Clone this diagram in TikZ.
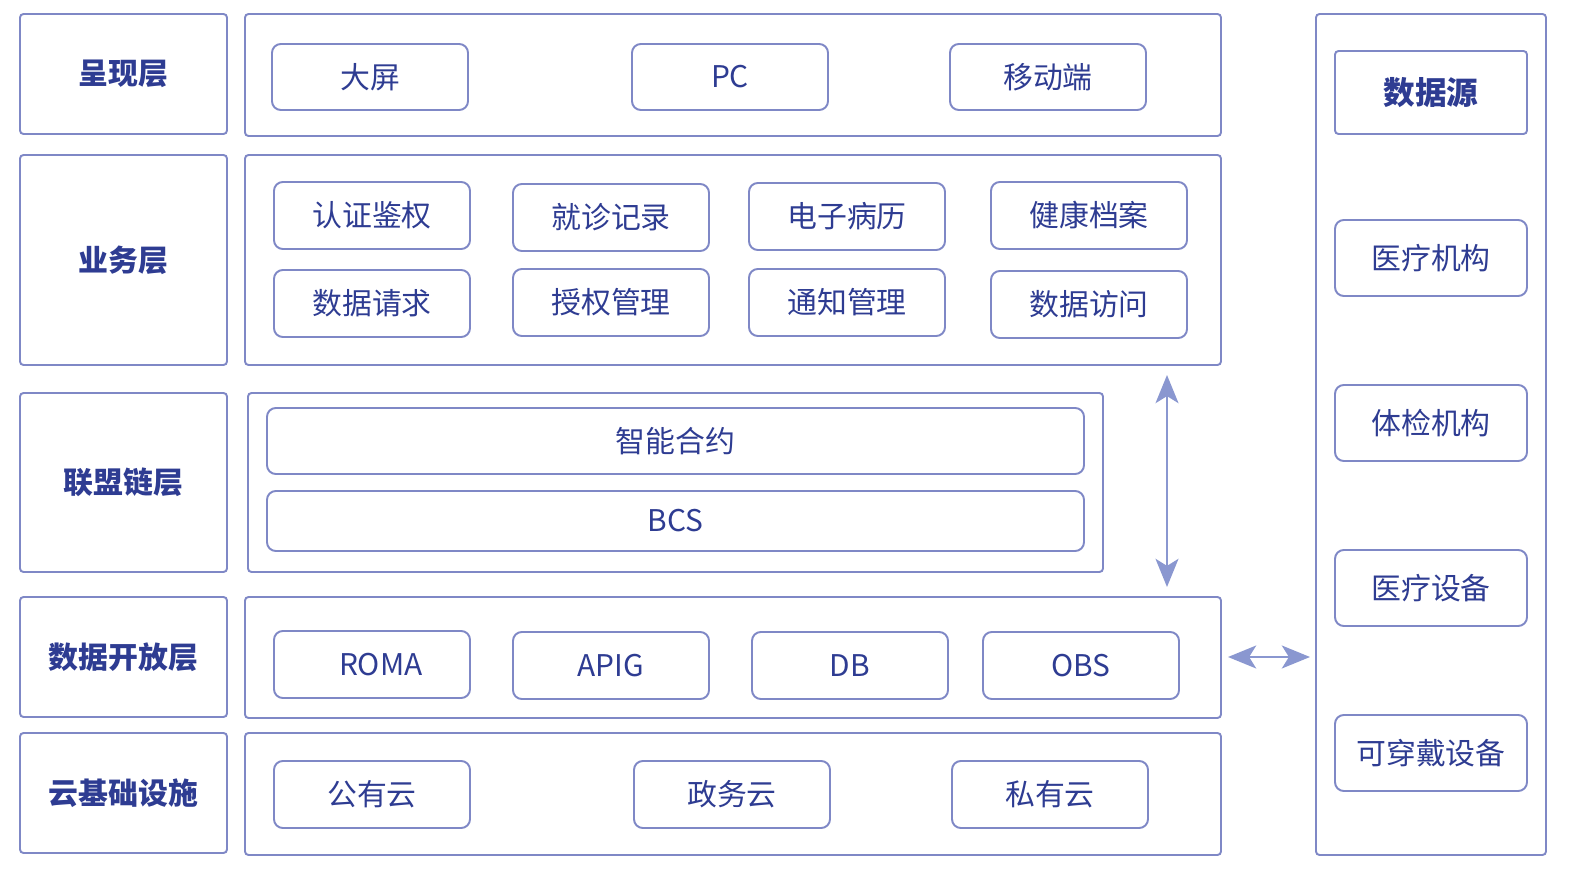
\documentclass[tikz,border=0pt]{standalone}
\usepackage{fontspec}
\setmainfont{Noto Sans CJK SC}
\usetikzlibrary{arrows.meta}
\definecolor{lineblue}{HTML}{7F88C6}
\definecolor{textblue}{HTML}{2E3C92}
\definecolor{arrowblue}{HTML}{8A97D0}
\tikzset{
  panel/.style = {draw=lineblue, line width=1.1pt, rounded corners=2pt},
  item/.style = {draw=lineblue, line width=1.1pt, rounded corners=5pt},
  lbl/.style = {text=textblue, font=\fontsize{17}{19}\selectfont},
  dbl/.style = {{Stealth[length=16pt,width=13pt,inset=4pt]}-{Stealth[length=16pt,width=13pt,inset=4pt]}, draw=arrowblue, line width=1.6pt}
}
% box from corner to corner with a centred label
\newcommand{\bx}[7]{%
  \draw[#1] (#3,#4) rectangle (#5,#6);
  \node[lbl] (#2) at ({(#3+#5)/2},{(#4+#6)/2}) {#7};}
\begin{document}
\begin{tikzpicture}[x=0.02cm, y=-0.02cm]
\useasboundingbox (0,0) rectangle (1590,888);

% layer names
\bx{panel}{l1}{20}{14}{227}{134}{\textbf{呈现层}}
\bx{panel}{l2}{20}{155}{227}{365}{\textbf{业务层}}
\bx{panel}{l3}{20}{393}{227}{572}{\textbf{联盟链层}}
\bx{panel}{l4}{20}{597}{227}{717}{\textbf{数据开放层}}
\bx{panel}{l5}{20}{733}{227}{853}{\textbf{云基础设施}}

% layer panels
\draw[panel] (245,14) rectangle (1221,136);
\draw[panel] (245,155) rectangle (1221,365);
\draw[panel] (248,393) rectangle (1103,572);
\draw[panel] (245,597) rectangle (1221,718);
\draw[panel] (245,733) rectangle (1221,855);

% presentation
\bx{item}{screen}{272}{44}{468}{110}{大屏}
\bx{item}{pc}{632}{44}{828}{110}{PC}
\bx{item}{mobile}{950}{44}{1146}{110}{移动端}

% business
\bx{item}{auth}{274}{182}{470}{249}{认证鉴权}
\bx{item}{visit}{513}{184}{709}{251}{就诊记录}
\bx{item}{emr}{749}{183}{945}{250}{电子病历}
\bx{item}{health}{991}{182}{1187}{249}{健康档案}
\bx{item}{req}{274}{270}{470}{337}{数据请求}
\bx{item}{grant}{513}{269}{709}{336}{授权管理}
\bx{item}{notify}{749}{269}{945}{336}{通知管理}
\bx{item}{access}{991}{271}{1187}{338}{数据访问}

% chain
\bx{item}{contract}{267}{408}{1084}{474}{智能合约}
\bx{item}{bcs}{267}{491}{1084}{551}{BCS}

% data open
\bx{item}{roma}{274}{631}{470}{698}{\hspace{10pt}ROMA}
\bx{item}{apig}{513}{632}{709}{699}{APIG}
\bx{item}{db}{752}{632}{948}{699}{DB}
\bx{item}{obs}{983}{632}{1179}{699}{OBS}

% cloud
\bx{item}{public}{274}{761}{470}{828}{公有云}
\bx{item}{gov}{634}{761}{830}{828}{政务云}
\bx{item}{private}{952}{761}{1148}{828}{私有云}

% data sources
\draw[panel] (1316,14) rectangle (1546,855);
\bx{panel}{src}{1335}{51}{1527}{134}{\fontsize{18}{20}\selectfont\textbf{数据源}}
\bx{item}{hosp}{1335}{220}{1527}{296}{医疗机构}
\bx{item}{check}{1335}{385}{1527}{461}{体检机构}
\bx{item}{device}{1335}{550}{1527}{626}{医疗设备}
\bx{item}{wear}{1335}{715}{1527}{791}{可穿戴设备}

% arrows
\coordinate (up) at (1167,375);
\coordinate (down) at (1167,587);
\coordinate (left) at (1228,657);
\coordinate (right) at (1310,657);
\draw[dbl] (up) -- (down);
\draw[dbl] (left) -- (right);
\end{tikzpicture}
\end{document}
